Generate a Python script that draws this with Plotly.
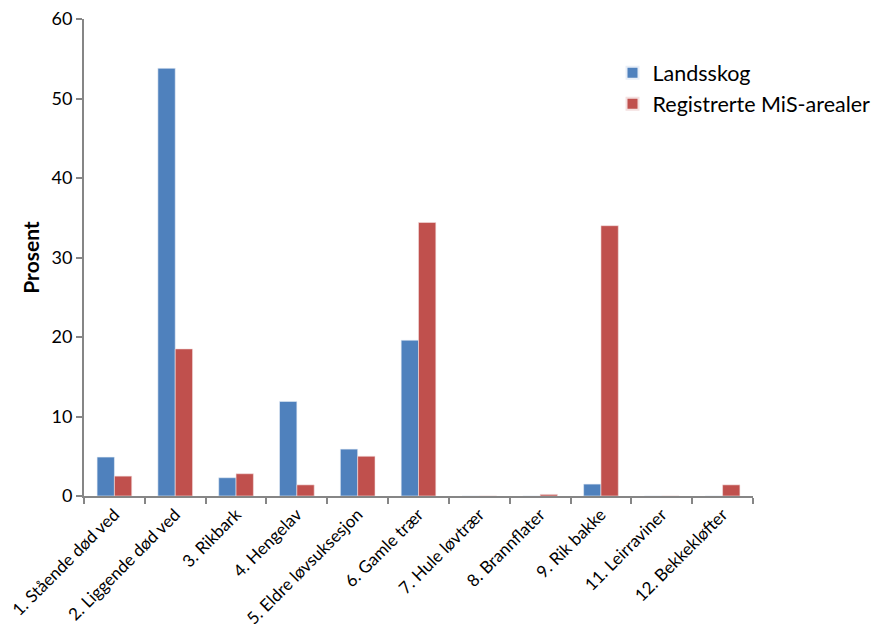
import plotly.graph_objects as go

categories = ["1. Stående død ved", "2. Liggende død ved", "3. Rikbark", "4. Hengelav",
              "5. Eldre løvsuksesjon", "6. Gamle trær", "7. Hule løvtrær", "8. Brannflater",
              "9. Rik bakke", "11. Leirraviner", "12. Bekkekløfter"]
landsskog = [4.9, 53.8, 2.3, 11.9, 5.9, 19.6, 0, 0, 1.5, 0, 0]
registrerte = [2.5, 18.5, 2.8, 1.4, 5.0, 34.4, 0, 0.2, 34.0, 0, 1.4]
y_ticks = [0, 10, 20, 30, 40, 50, 60]

FONT = "Lato, 'Open Sans', sans-serif"

fig = go.Figure()
fig.add_trace(go.Bar(x=categories, y=landsskog, name="Landsskog",
                     marker=dict(color="#4F81BD", line=dict(color="#E8EEF7", width=0.6))))
fig.add_trace(go.Bar(x=categories, y=registrerte, name="Registrerte MiS-arealer",
                     marker=dict(color="#C0504D", line=dict(color="#F4E0E0", width=0.6))))

fig.update_layout(
    width=880, height=633,
    margin=dict(l=84, r=127, t=19, b=137, autoexpand=False),
    paper_bgcolor="white", plot_bgcolor="white",
    barmode="group", bargap=0.43, bargroupgap=0,
    font=dict(family=FONT, color="black"),
    legend=dict(x=0.79, y=0.93, xanchor="left", yanchor="top",
                font=dict(size=21.5, family=FONT), itemsizing="constant",
                bgcolor="rgba(0,0,0,0)"),
    xaxis=dict(type="category", tickangle=-45, tickson="boundaries", automargin=False,
               ticks="outside", ticklen=6, tickcolor="#868686", tickwidth=2,
               showline=True, linecolor="#868686", linewidth=2,
               tickfont=dict(size=17, family=FONT, color="black"),
               showgrid=False),
    yaxis=dict(range=[0, 60], tickvals=y_ticks, ticks="outside", ticklen=6, automargin=False,
               tickcolor="#868686", tickwidth=2,
               showline=True, linecolor="#868686", linewidth=2,
               showgrid=False, zeroline=False,
               tickfont=dict(size=18, family=FONT, color="black"),
               title=dict(text="<b>Prosent</b>", font=dict(size=21, family=FONT), standoff=6)),
)

fig.write_html("out.html")
